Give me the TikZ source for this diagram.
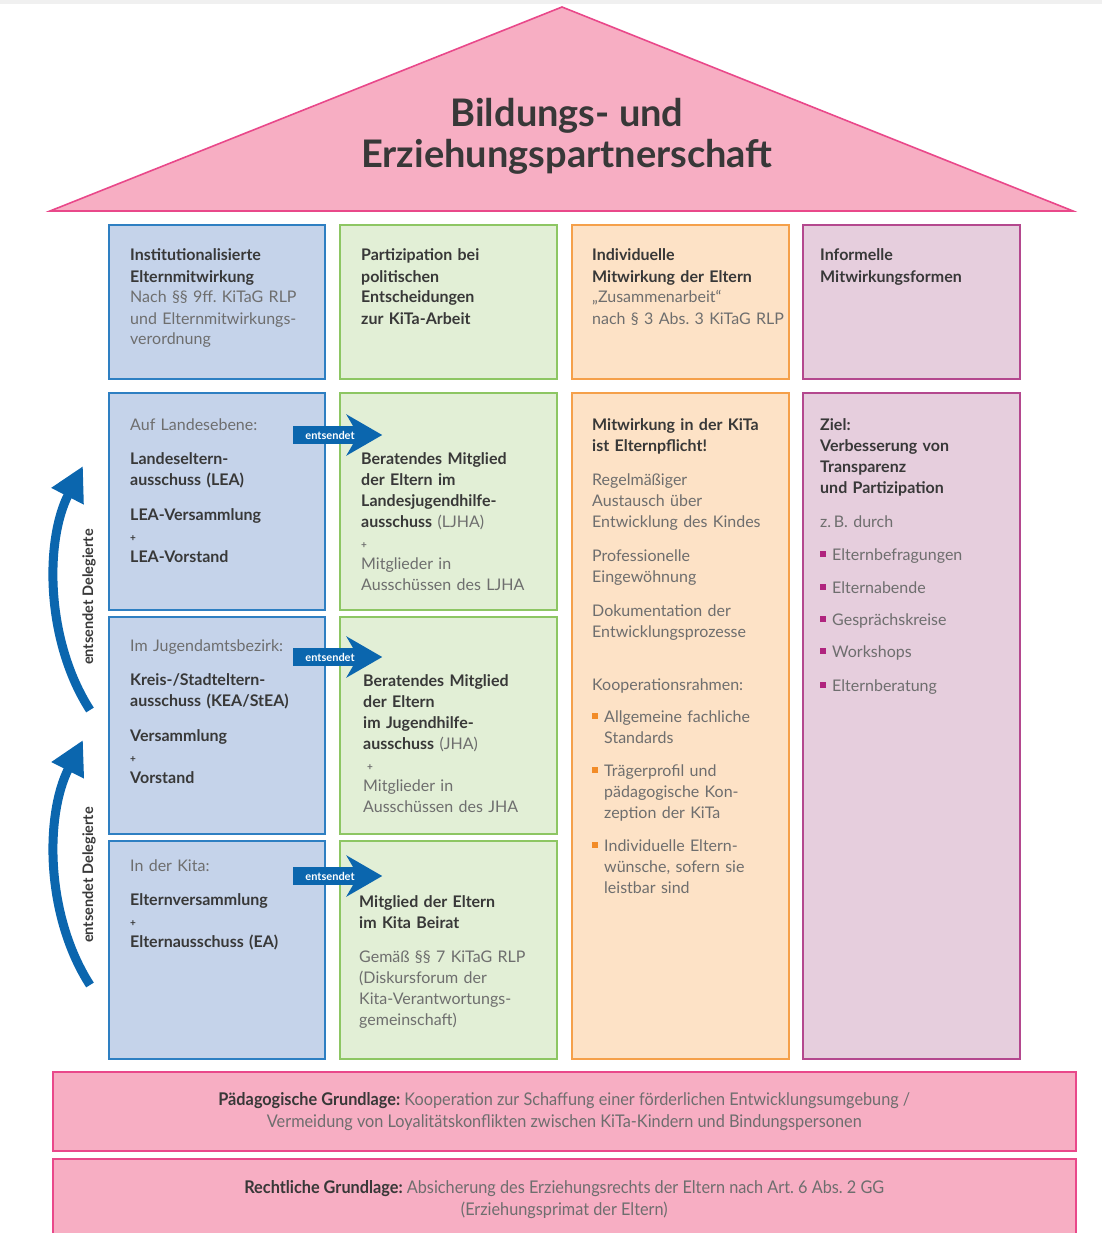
\documentclass[tikz,border=0pt]{standalone}
\usepackage{fontspec}
\setmainfont{Lato}
\newfontfamily\condfont{Lato}[FakeStretch=0.93]
\usetikzlibrary{shapes.arrows,arrows.meta}
\frenchspacing

\definecolor{bluefill}{HTML}{C5D3EA}
\definecolor{blueline}{HTML}{2E7FC2}
\definecolor{greenfill}{HTML}{E2EFD6}
\definecolor{greenline}{HTML}{8DC663}
\definecolor{orangefill}{HTML}{FDE2C6}
\definecolor{orangeline}{HTML}{F5A04A}
\definecolor{purplefill}{HTML}{E6CEDD}
\definecolor{purpleline}{HTML}{B4488E}
\definecolor{pinkfill}{HTML}{F7AEC3}
\definecolor{pinkline}{HTML}{E9488A}
\definecolor{arrowblue}{HTML}{0B66AE}
\definecolor{txtdark}{HTML}{383838}
\definecolor{txtgray}{HTML}{6E6E6E}
\definecolor{bulorange}{HTML}{F28C28}
\definecolor{bulpurple}{HTML}{B0247E}

\newcommand{\gr}[1]{{\color{txtgray}#1}}
\newcommand{\obul}{{\color{bulorange}\rule[3pt]{6pt}{6pt}}\hspace{6pt}}
\newcommand{\pbul}{{\color{bulpurple}\rule[3pt]{6pt}{6pt}}\hspace{6pt}}
\newcommand{\plus}{{\fontsize{10}{10}\selectfont\textbf{+}}}

\begin{document}
\begin{tikzpicture}[x=1pt,y=-1pt]
	\tikzstyle{box}=[anchor=north west,inner sep=0pt,line width=1.6pt]
	\tikzstyle{bluebox}=[box,draw=blueline,fill=bluefill]
	\tikzstyle{greenbox}=[box,draw=greenline,fill=greenfill]
	\tikzstyle{orangebox}=[box,draw=orangeline,fill=orangefill]
	\tikzstyle{purplebox}=[box,draw=purpleline,fill=purplefill]
	\tikzstyle{pinkbox}=[box,draw=pinkline,fill=pinkfill,align=center,text=txtdark,
		font=\condfont\fontsize{17.5}{22}\selectfont]
	\tikzstyle{txt}=[anchor=base west,inner sep=0pt,text width=215pt,align=left,
		text=txtdark,font=\fontsize{16}{21}\selectfont]
	\tikzstyle{sendarrow}=[single arrow,fill=arrowblue,text=white,anchor=tail,
		font=\bfseries\fontsize{11}{12}\selectfont,minimum height=89pt,inner sep=4.5pt,
		single arrow head extend=12pt,single arrow tip angle=60,single arrow head indent=7pt]
	\tikzstyle{delegarrow}=[draw=arrowblue,line width=9pt,-{Triangle[width=34pt,length=34pt]}]
	\tikzstyle{delegtxt}=[rotate=90,text=txtdark,font=\bfseries\fontsize{14.5}{16}\selectfont]

	\useasboundingbox (0,0) rectangle (1102,1233);
	\fill[black!6] (0,0) rectangle (1102,4);

	% roof
	\draw[pinkline,fill=pinkfill,line width=1.6pt] (562,7) -- (1073,211) -- (50,211) -- cycle;
	\node[align=center,text=txtdark,font=\bfseries\fontsize{38}{41}\selectfont] (title) at (567,136)
		{Bildungs- und\\Erziehungspartnerschaft};

	% head row
	\node[bluebox,minimum width=216pt,minimum height=154pt] (instHead) at (108,224) {};
	\node[greenbox,minimum width=217pt,minimum height=154pt] (partHead) at (339,224) {};
	\node[orangebox,minimum width=217pt,minimum height=154pt] (indivHead) at (571,224) {};
	\node[purplebox,minimum width=217pt,minimum height=154pt] (inforHead) at (802,224) {};

	\node[txt] (instText) at (130,261) {\textbf{Institutionalisierte}\\\textbf{Elternmitwirkung}\\
		\gr{Nach §§ 9ff. KiTaG RLP\\und Elternmitwirkungs-\\verordnung}};
	\node[txt] (partText) at (361,261) {\textbf{Partizipation bei\\politischen\\Entscheidungen\\zur KiTa-Arbeit}};
	\node[txt] (indivText) at (592,261) {\textbf{Individuelle\\Mitwirkung der Eltern}\\
		\gr{„Zusammenarbeit“\\nach § 3 Abs. 3 KiTaG RLP}};
	\node[txt] (inforText) at (820,261) {\textbf{Informelle\\Mitwirkungsformen}};

	% levels, blue and green
	\node[bluebox,minimum width=216pt,minimum height=217pt] (landBox) at (108,392) {};
	\node[bluebox,minimum width=216pt,minimum height=217pt] (kreisBox) at (108,616) {};
	\node[bluebox,minimum width=216pt,minimum height=218pt] (kitaBox) at (108,840) {};
	\node[greenbox,minimum width=217pt,minimum height=217pt] (ljhaBox) at (339,392) {};
	\node[greenbox,minimum width=217pt,minimum height=217pt] (jhaBox) at (339,616) {};
	\node[greenbox,minimum width=217pt,minimum height=218pt] (beiratBox) at (339,840) {};

	\node[txt] (landText) at (130,430) {\gr{Auf Landesebene:}\\[13pt]
		\textbf{Landeseltern-\\ausschuss (LEA)}\\[14pt]
		\textbf{LEA-Versammlung}\\\plus\\\textbf{LEA-Vorstand}};
	\node[txt] (kreisText) at (130,651) {\gr{Im Jugendamtsbezirk:}\\[13pt]
		\textbf{Kreis-/Stadteltern-\\ausschuss (KEA/StEA)}\\[14pt]
		\textbf{Versammlung}\\\plus\\\textbf{Vorstand}};
	\node[txt] (kitaText) at (130,871) {\gr{In der Kita:}\\[13pt]
		\textbf{Elternversammlung}\\\plus\\\textbf{Elternausschuss (EA)}};

	\node[txt] (ljhaText) at (361,464) {\textbf{Beratendes Mitglied\\der Eltern im\\Landesjugendhilfe-\\ausschuss}
		\gr{(LJHA)\\\plus\\Mitglieder in\\Ausschüssen des LJHA}};
	\node[txt] (jhaText) at (363,686) {\textbf{Beratendes Mitglied\\der Eltern\\im Jugendhilfe-\\ausschuss}
		\gr{(JHA)\\\hspace*{4pt}\plus\\Mitglieder in\\Ausschüssen des JHA}};
	\node[txt] (beiratText) at (359,907) {\textbf{Mitglied der Eltern\\im Kita Beirat}\\[13pt]
		\gr{Gemäß §§ 7 KiTaG RLP\\(Diskursforum der\\Kita-Verantwortungs-\\gemeinschaft)}};

	% sending arrows
	\node[sendarrow] (sendLand) at (293,435) {entsendet};
	\node[sendarrow] (sendKreis) at (293,657) {entsendet};
	\node[sendarrow] (sendKita) at (293,876) {entsendet};

	% delegates upwards
	\coordinate (kitaFoot) at (90,985);
	\coordinate (kreisTip) at (83,740);
	\coordinate (kreisFoot) at (90,710);
	\coordinate (landTip) at (83,466);
	\draw[delegarrow] (kitaFoot) .. controls (45,915) and (45,815) .. (kreisTip);
	\draw[delegarrow] (kreisFoot) .. controls (45,640) and (45,540) .. (landTip);
	\node[delegtxt] (delegKita) at (89,875) {entsendet Delegierte};
	\node[delegtxt] (delegKreis) at (89,597) {entsendet Delegierte};

	% individual and informal
	\node[orangebox,minimum width=217pt,minimum height=666pt] (pflichtBox) at (571,392) {};
	\node[purplebox,minimum width=217pt,minimum height=666pt] (zielBox) at (802,392) {};

	\node[txt] (pflichtText) at (592,430) {\textbf{Mitwirkung in der KiTa\\ist Elternpflicht!}\\[13pt]
		\gr{Regelmäßiger\\Austausch über\\Entwicklung des Kindes\\[13pt]
		Professionelle\\Eingewöhnung\\[13pt]
		Dokumentation der\\Entwicklungsprozesse\\[32pt]
		Kooperationsrahmen:\\[11pt]
		\obul Allgemeine fachliche\\\hspace*{12pt}Standards\\[12pt]
		\obul Trägerprofil und\\\hspace*{12pt}pädagogische Kon-\\\hspace*{12pt}zeption der KiTa\\[12pt]
		\obul Individuelle Eltern-\\\hspace*{12pt}wünsche, sofern sie\\\hspace*{12pt}leistbar sind}};
	\node[txt] (zielText) at (820,430) {\textbf{Ziel:\\Verbesserung von\\Transparenz\\und Partizipation}\\[13pt]
		\gr{z.\,B. durch\\[12pt]
		\pbul Elternbefragungen\\[12pt]
		\pbul Elternabende\\[11pt]
		\pbul Gesprächskreise\\[11pt]
		\pbul Workshops\\[13pt]
		\pbul Elternberatung}};

	% foundations
	\node[pinkbox,minimum width=1023pt,minimum height=79pt] (paedBox) at (52,1071)
		{\textbf{Pädagogische Grundlage:} \gr{Kooperation zur Schaffung einer förderlichen Entwicklungsumgebung /}\\
		\gr{Vermeidung von Loyalitätskonflikten zwischen KiTa-Kindern und Bindungspersonen}};
	\node[pinkbox,minimum width=1023pt,minimum height=81pt] (rechtBox) at (52,1158)
		{\textbf{Rechtliche Grundlage:} \gr{Absicherung des Erziehungsrechts der Eltern nach Art. 6 Abs. 2 GG}\\
		\gr{(Erziehungsprimat der Eltern)}};
\end{tikzpicture}
\end{document}
